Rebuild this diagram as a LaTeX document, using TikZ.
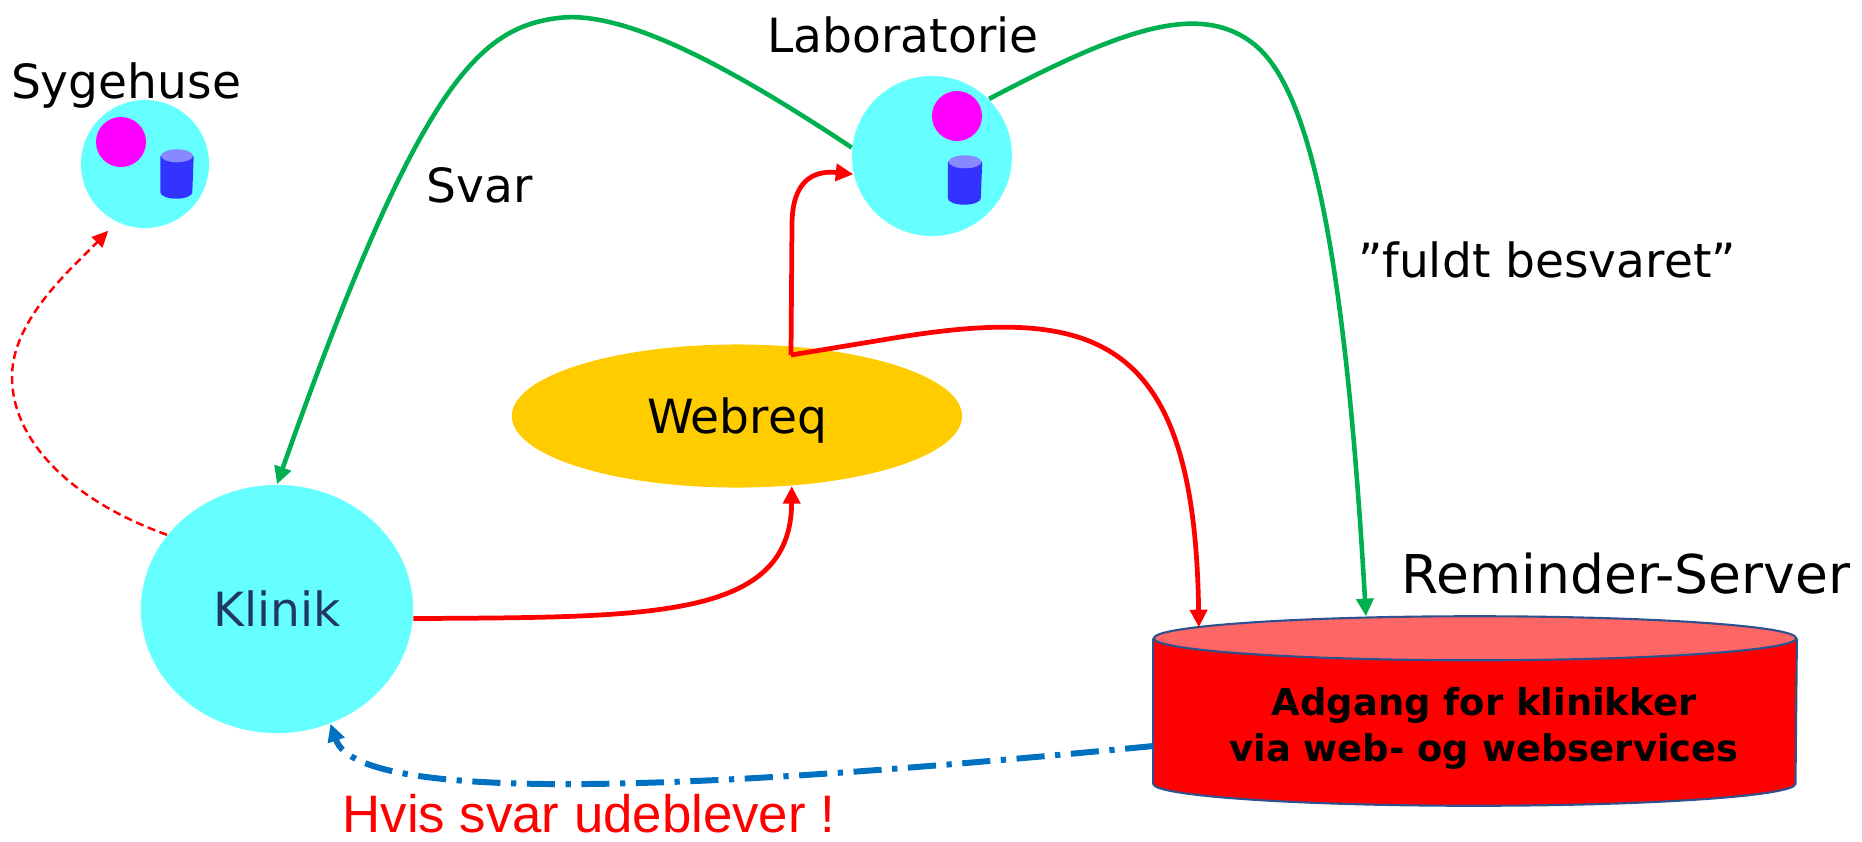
\documentclass[tikz,border=0pt]{standalone}
\usepackage{fontspec}
\setmainfont{DejaVu Sans}
\newfontfamily\arialfont{Liberation Sans}
\usepackage{tikz}
\usetikzlibrary{shapes.geometric}
\usetikzlibrary{arrows.meta}
\definecolor{sitecyan}{HTML}{66FFFF}
\definecolor{dotpink}{HTML}{FF00FF}
\definecolor{dbbody}{HTML}{3333FF}
\definecolor{dbtop}{HTML}{8888FF}
\definecolor{webgold}{HTML}{FFCC00}
\definecolor{srvred}{HTML}{FF0000}
\definecolor{srvtop}{HTML}{FF6666}
\definecolor{srvedge}{HTML}{2F528F}
\definecolor{svargreen}{HTML}{00B050}
\definecolor{remindblue}{HTML}{0070C0}
\definecolor{klinikblue}{HTML}{1F3864}
\tikzset{
	site/.style={shape=circle, fill=sitecyan, inner sep=0pt},
	pinkdot/.style={shape=circle, fill=dotpink, inner sep=0pt, minimum size=0.5cm},
	minidb/.style={shape=rectangle, minimum width=0.32cm, minimum height=0.48cm, inner sep=0pt},
	lbl/.style={font=\fontsize{13.4}{16}\selectfont, anchor=base, inner sep=0pt},
	tip/.style={-{Triangle[length=5pt, width=4.8pt]}},
	svarline/.style={draw=svargreen, line width=1.3pt, tip},
	reqline/.style={draw=srvred, line width=1.35pt, tip},
	thindash/.style={draw=srvred, line width=0.7pt, dash pattern=on 2.3pt off 1.3pt, -{Triangle[length=4.6pt, width=4.2pt]}},
	remindline/.style={draw=remindblue, line width=1.7pt, dash pattern=on 8pt off 3pt on 1.5pt off 3pt, tip}
}
\begin{document}
\begin{tikzpicture}[x=0.01cm, y=-0.01cm]
	% Paths, nodes and wires:
	\useasboundingbox (0, 0) rectangle (1862, 841);
	\node[site, minimum size=1.28cm](syg) at (145, 164){};
	\node[pinkdot](sygdot) at (121, 142){};
	\node[minidb](sygdb) at (177, 174){};
	\fill[dbbody] ([yshift=-0.065cm]sygdb.north west) -- ([yshift=0.065cm]sygdb.south west) arc[start angle=180, end angle=360, x radius=0.16cm, y radius=0.065cm] -- ([yshift=-0.065cm]sygdb.north east) -- cycle;
	\fill[dbtop] ([yshift=-0.065cm]sygdb.north) ellipse[x radius=0.16cm, y radius=0.065cm];
	\node[lbl](lbsyg) at (126, 98){Sygehuse};
	\node[site, minimum size=1.6cm](lab) at (932, 156){};
	\node[pinkdot](labdot) at (957, 116){};
	\node[minidb, minimum width=0.33cm](labdb) at (965, 180){};
	\fill[dbbody] ([yshift=-0.065cm]labdb.north west) -- ([yshift=0.065cm]labdb.south west) arc[start angle=180, end angle=360, x radius=0.165cm, y radius=0.065cm] -- ([yshift=-0.065cm]labdb.north east) -- cycle;
	\fill[dbtop] ([yshift=-0.065cm]labdb.north) ellipse[x radius=0.165cm, y radius=0.065cm];
	\node[lbl](lblab) at (903, 52){Laboratorie};
	\node[shape=ellipse, fill=sitecyan, minimum width=2.72cm, minimum height=2.48cm, inner sep=0pt, text=klinikblue, font=\fontsize{13.4}{16}\selectfont](klinik) at (277, 609){Klinik};
	\node[shape=ellipse, fill=webgold, minimum width=4.5cm, minimum height=1.43cm, inner sep=0pt, text depth=0pt, font=\fontsize{13.4}{16}\selectfont](webreq) at (737, 416){Webreq};
	\node[shape=rectangle, minimum width=6.42cm, minimum height=1.88cm, inner sep=0pt](server) at (1475, 711){};
	\fill[srvred] ([yshift=-0.22cm]server.north west) -- ([yshift=0.22cm]server.south west) arc[start angle=180, end angle=360, x radius=3.21cm, y radius=0.22cm] -- ([yshift=-0.22cm]server.north east) -- cycle;
	\fill[srvtop] ([yshift=-0.22cm]server.north) ellipse[x radius=3.21cm, y radius=0.22cm];
	\draw[srvedge, line width=0.6pt] ([yshift=-0.22cm]server.north west) -- ([yshift=0.22cm]server.south west) arc[start angle=180, end angle=360, x radius=3.21cm, y radius=0.22cm] -- ([yshift=-0.22cm]server.north east);
	\draw[srvedge, line width=0.6pt] ([yshift=-0.22cm]server.north) ellipse[x radius=3.21cm, y radius=0.22cm];
	\node[align=center, inner sep=0pt, font=\bfseries\fontsize{10.5}{13.1}\selectfont](srvtext) at (1484, 728){Adgang for klinikker\\via web- og webservices};
	\node[lbl, font=\fontsize{15.2}{18}\selectfont](lbserver) at (1626, 593){Reminder-Server};
	\node[lbl](lbsvar) at (480, 202){Svar};
	\node[lbl](lbfuldt) at (1547, 277){”fuldt besvaret”};
	\node[anchor=base, inner sep=0pt, text=srvred, font=\arialfont\fontsize{15}{18}\selectfont](lbhvis) at (589, 832){Hvis svar udeblever !};
	\coordinate (fork) at (791, 355);
	\draw[svarline] (lab.174) .. controls (720, 60) and (620, 10) .. (558, 18) .. controls (480, 28) and (420, 80) .. (klinik.north);
	\draw[svarline] (lab.45) .. controls (1120, 30) and (1200, 0) .. (1255, 45) .. controls (1310, 90) and (1345, 250) .. ([xshift=-1.09cm]server.north);
	\draw[reqline] (klinik.-4) .. controls (650, 617) and (791, 620) .. (webreq.-52);
	\draw[reqline] (fork) -- (792, 225) .. controls (792, 182) and (812, 170) .. (lab.193);
	\draw[reqline] (fork) -- (900, 337) .. controls (1100, 305) and (1195, 340) .. ([xshift=-2.76cm, yshift=-0.11cm]server.north);
	\draw[thindash, shorten >=0.12cm] (klinik.146) .. controls (70, 500) and (12, 440) .. (12, 377) .. controls (12, 320) and (70, 270) .. (syg.244);
	\draw[remindline] ([yshift=-0.35cm]server.west) .. controls (750, 785) and (360, 810) .. (klinik.-65);
\end{tikzpicture}
\end{document}
